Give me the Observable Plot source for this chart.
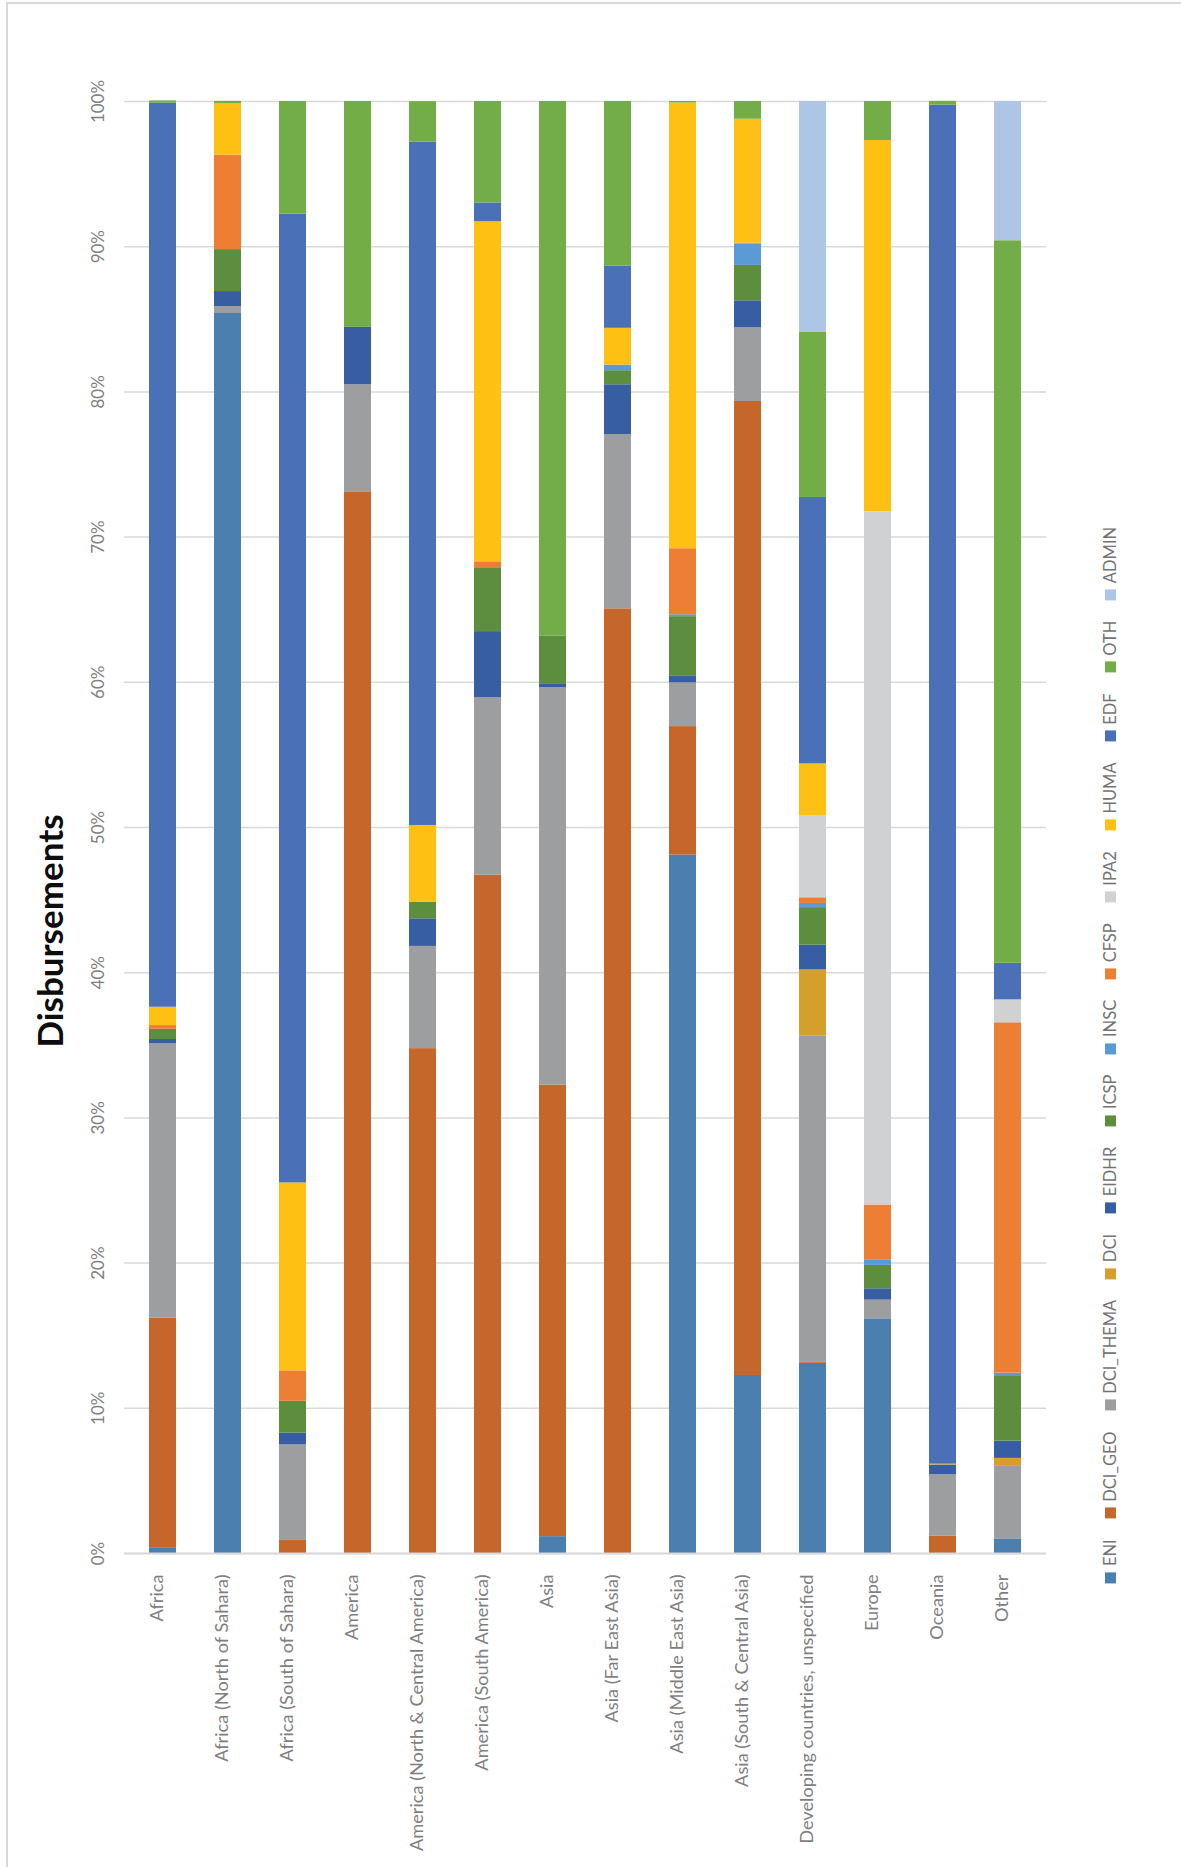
<!DOCTYPE html>
<html>
<head>
<meta charset="utf-8">
<script src="https://cdn.jsdelivr.net/npm/d3@7"></script>
<script src="https://cdn.jsdelivr.net/npm/@observablehq/plot@0.6"></script>
<style>
  html, body { margin: 0; padding: 0; background: #ffffff; }
  body { width: 1181px; height: 1867px; position: relative; overflow: hidden; font-family: Lato, "Open Sans", sans-serif; }
  #frame { position: absolute; left: 6px; top: 2px; width: 1300px; height: 2000px; border-left: 2px solid #d9d9d9; border-top: 2px solid #d9d9d9; }
  #chart { position: absolute; left: 0; top: 0; }
  #title { position: absolute; left: 49px; top: 931px; transform: translate(-50%, -50%) rotate(-90deg); font-family: Lato, sans-serif; font-weight: 700; font-size: 35px; color: #0d0d0d; white-space: nowrap; }
  #legend { position: absolute; left: 1110px; top: 1055px; transform: translate(-50%, -50%) rotate(-90deg); display: flex; align-items: center; white-space: nowrap; font-family: Lato, sans-serif; font-size: 16.5px; color: #737373; }
  #legend .item { display: flex; align-items: center; margin: 0 10.3px; }
  #legend .sw { width: 11px; height: 11px; margin-right: 6px; display: inline-block; }
</style>
</head>
<body>
<div id="frame"></div>
<div id="chart"></div>
<div id="title">Disbursements</div>
<div id="legend"></div>
<script>
// Categories (regions)
const regions = [
  "Africa", "Africa (North of Sahara)", "Africa (South of Sahara)", "America",
  "America (North & Central America)", "America (South America)", "Asia",
  "Asia (Far East Asia)", "Asia (Middle East Asia)", "Asia (South & Central Asia)",
  "Developing countries, unspecified", "Europe", "Oceania", "Other"
];

// Series (stack order, bottom to top)
const seriesNames = ["ENI", "DCI_GEO", "DCI_THEMA", "DCI", "EIDHR", "ICSP", "INSC", "CFSP", "IPA2", "HUMA", "EDF", "OTH", "ADMIN"];
const seriesColors = ["#4a7fb0", "#c5672a", "#9d9e9f", "#d4a02b", "#375da3", "#5c8e3e", "#5b9bd5", "#ed7f35", "#d0d1d2", "#fdc013", "#4a70b7", "#72ad47", "#adc6e5"];

// Share of disbursements (%) per region, one array per series
const ENI       = [0.4, 85.4, 0, 0, 0, 0, 1.16, 0, 48.1, 12.26, 13.1, 16.16, 0, 0.97];
const DCI_GEO   = [15.8, 0, 0.9, 73.12, 34.77, 46.71, 31.1, 65.06, 8.85, 67.08, 0.06, 0, 1.19, 0];
const DCI_THEMA = [18.9, 0.48, 6.58, 7.37, 7.04, 12.22, 27.38, 12.0, 3.01, 5.07, 22.49, 1.29, 4.23, 5.03];
const DCI       = [0, 0, 0, 0, 0, 0, 0, 0, 0, 0, 4.54, 0, 0, 0.55];
const EIDHR     = [0.3, 1.03, 0.81, 3.95, 1.9, 4.56, 0.26, 3.43, 0.45, 1.86, 1.71, 0.78, 0.68, 1.19];
const ICSP      = [0.7, 2.89, 2.19, 0, 1.13, 4.4, 3.27, 0.97, 4.11, 2.44, 2.58, 1.61, 0, 4.45];
const INSC      = [0, 0, 0, 0, 0, 0, 0, 0.38, 0.13, 1.47, 0.29, 0.39, 0, 0.23];
const CFSP      = [0.26, 6.51, 2.1, 0, 0, 0.41, 0, 0, 4.55, 0.07, 0.39, 3.77, 0, 24.13];
const IPA2      = [0, 0, 0, 0, 0, 0, 0, 0, 0, 0, 5.63, 47.74, 0, 1.58];
const HUMA      = [1.26, 3.55, 12.94, 0, 5.3, 23.42, 0, 2.54, 30.7, 8.53, 3.59, 25.57, 0.05, 0];
const EDF       = [62.26, 0, 66.72, 0, 47.06, 1.29, 0, 4.29, 0, 0, 18.35, 0, 93.6, 2.52];
const OTH       = [0.16, 0.15, 7.76, 15.56, 2.79, 6.99, 36.83, 11.33, 0.1, 1.22, 11.36, 2.69, 0.26, 49.76];
const ADMIN     = [0, 0, 0, 0, 0, 0, 0, 0, 0, 0, 15.91, 0, 0, 9.59];

// Y tick values and labels
const yTicks = [0, 10, 20, 30, 40, 50, 60, 70, 80, 90, 100];
const yTickLabels = ["0%", "10%", "20%", "30%", "40%", "50%", "60%", "70%", "80%", "90%", "100%"];

const seriesValues = [ENI, DCI_GEO, DCI_THEMA, DCI, EIDHR, ICSP, INSC, CFSP, IPA2, HUMA, EDF, OTH, ADMIN];
const table = [];
regions.forEach((r, i) => {
  seriesNames.forEach((s, j) => {
    table.push({region: r, series: s, value: seriesValues[j][i]});
  });
});
const tickTable = yTicks.map((v, i) => ({v, label: yTickLabels[i]}));

const W = 1181, H = 1867;
const plot = Plot.plot({
  width: W,
  height: H,
  marginLeft: 124,
  marginRight: 135,
  marginTop: 101,
  marginBottom: 314,
  style: {background: "transparent", fontFamily: "Lato, sans-serif"},
  x: {type: "band", domain: regions, paddingInner: 0.59, paddingOuter: 0.3, axis: null},
  y: {domain: [0, 100], axis: null},
  color: {domain: seriesNames, range: seriesColors},
  marks: [
    Plot.gridY(yTicks, {stroke: "#d9d9d9", strokeOpacity: 1, strokeWidth: 1.5}),
    Plot.barY(table, {x: "region", y: "value", fill: "series"}),
    Plot.ruleY([0], {stroke: "#d9d9d9", strokeWidth: 2}),
    Plot.text(tickTable, {
      y: "v", text: "label", frameAnchor: "left", dx: -26, rotate: -90,
      textAnchor: "middle", fill: "#7f7f7f", fontSize: 17
    }),
    Plot.text(regions, {
      x: d => d, text: d => d, frameAnchor: "bottom", dy: 21, rotate: -90,
      textAnchor: "end", fill: "#7f7f7f", fontSize: 18.2
    })
  ]
});
document.getElementById("chart").appendChild(plot);

const legend = document.getElementById("legend");
seriesNames.forEach((s, i) => {
  const item = document.createElement("div");
  item.className = "item";
  const sw = document.createElement("span");
  sw.className = "sw";
  sw.style.background = seriesColors[i];
  const t = document.createElement("span");
  t.textContent = s;
  item.appendChild(sw);
  item.appendChild(t);
  legend.appendChild(item);
});
</script>
</body>
</html>
